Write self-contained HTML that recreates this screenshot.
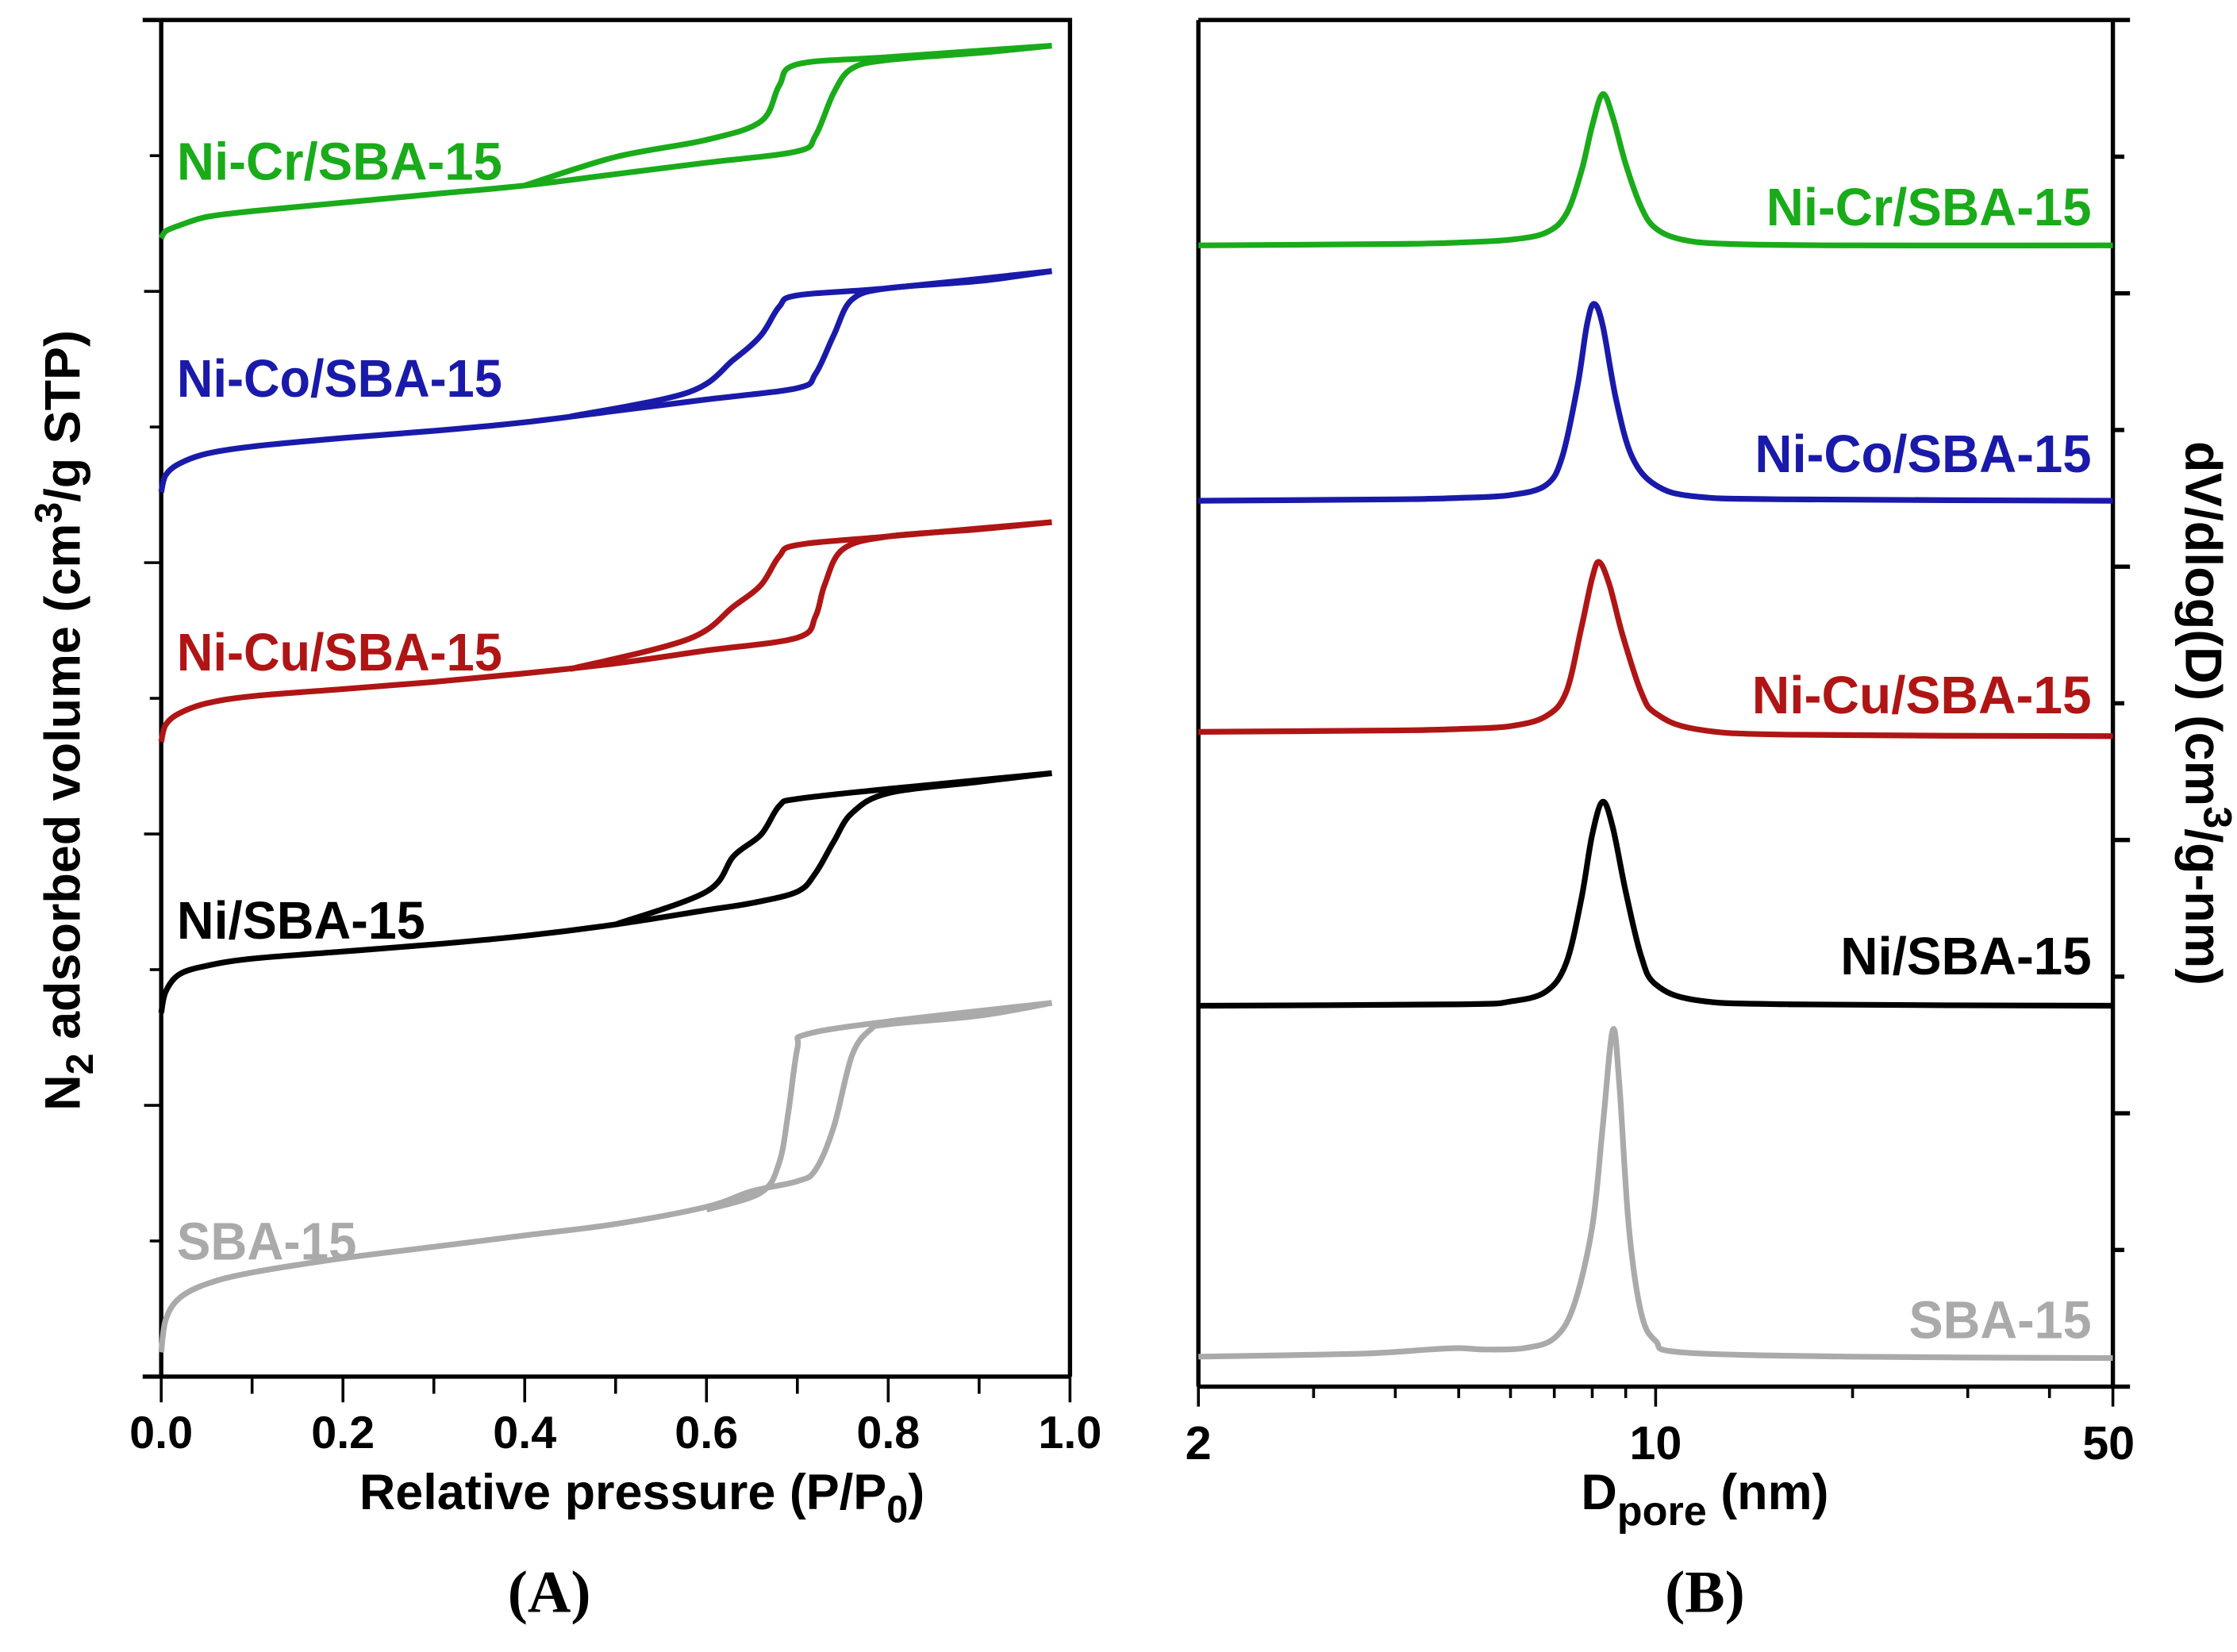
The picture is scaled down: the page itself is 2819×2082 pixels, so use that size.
<!DOCTYPE html>
<html><head><meta charset="utf-8"><style>
html,body{margin:0;padding:0;background:#fff}
svg{display:block}
text{font-family:"Liberation Sans",Arial,sans-serif;font-weight:bold}
</style></head><body>
<svg id="fig" width="2819" height="2082" viewBox="0 0 1568 1158" xmlns="http://www.w3.org/2000/svg">
<g id="pa"></g>
<g id="pb"></g>
</svg>
<script>
// ---------- Panel A data (relative pressure, adsorbed volume a.u.) ----------
const aXTicks=[0,0.2,0.4,0.6,0.8,1.0];
const aXTickLabels=["0.0","0.2","0.4","0.6","0.8","1.0"];
const aNames=["SBA-15","Ni/SBA-15","Ni-Cu/SBA-15","Ni-Co/SBA-15","Ni-Cr/SBA-15"];
const aColors=["#aaaaaa","#000000","#b01515","#1a1aaa","#1aab1a"];
const sbaAdsX=[0,0.005,0.02,0.05,0.1,0.2,0.3,0.4,0.5,0.6,0.65,0.7,0.72,0.74,0.76,0.78,0.8,0.9,0.98];
const sbaAdsY=[17,40,55,65,73,83,91,99,107,119,130,137,145,175,225,243,247,253,262];
const sbaDesX=[0.98,0.8,0.71,0.70,0.69,0.68,0.66,0.6];
const sbaDesY=[262,249,240,230,185,150,129,117];
const niAdsX=[0,0.005,0.02,0.05,0.1,0.2,0.3,0.4,0.5,0.6,0.65,0.7,0.72,0.74,0.76,0.8,0.9,0.98];
const niAdsY=[255,270,282,288,293,298,303,309,317,327,332,340,353,375,395,409,417,423];
const niDesX=[0.98,0.8,0.7,0.68,0.66,0.63,0.6,0.5];
const niDesY=[423,412,405,400,380,365,340,317];
const cuAdsX=[0,0.005,0.02,0.05,0.1,0.2,0.3,0.4,0.5,0.6,0.7,0.72,0.73,0.75,0.8,0.9,0.98];
const cuAdsY=[445,457,465,472,477,482,487,493,500,509,518,533,555,580,589,594,599];
const cuDesX=[0.98,0.8,0.7,0.68,0.66,0.63,0.58,0.45];
const cuDesY=[599,589,583,575,555,540,517,496];
const coAdsX=[0,0.005,0.02,0.05,0.1,0.2,0.3,0.4,0.5,0.6,0.7,0.72,0.74,0.76,0.8,0.9,0.98];
const coAdsY=[620,632,640,647,652,658,663,669,677,685,693,703,730,755,763,768,775];
const coDesX=[0.98,0.8,0.7,0.68,0.66,0.63,0.58,0.45];
const coDesY=[775,763,758,750,730,713,690,673];
const crAdsX=[0,0.005,0.02,0.05,0.1,0.2,0.3,0.4,0.5,0.6,0.7,0.72,0.74,0.76,0.8,0.9,0.98];
const crAdsY=[798,803,807,813,817,823,829,835,843,851,859,870,900,917,923,928,933];
const crDesX=[0.98,0.8,0.7,0.68,0.66,0.6,0.5,0.4];
const crDesY=[933,925,920,905,880,867,855,835];
const aLabelY=[95,320,508,700,852];

// ---------- Panel B data (pore diameter nm, dV/dlogD a.u.) ----------
const bXTickLabels=["2","10","50"];
const bXTicks=[2,10,50];
const bMinor=[3,4,5,6,7,8,9,20,30,40];
const sbaBD=[2,3.5,4.5,5,5.5,6.3,7,7.5,8.0,8.3,8.6,8.8,9.1,9.5,10,11,20,50];
const sbaBV=[21,23,26,27,26,27,34,57,112,182,250,212,112,52,32,24,21,20];
const niBD=[2,5,6,6.8,7.3,7.7,8.0,8.3,8.6,9.0,9.5,10,11.5,16,50];
const niBV=[267,268,270,277,297,342,387,410,392,347,302,282,271,268,267];
const cuBD=[2,4,5,6,6.8,7.3,7.7,8.0,8.2,8.5,8.9,9.5,10,11.5,16,50];
const cuBV=[459,460,461,463,470,487,532,567,578,562,527,487,472,461,457,456];
const coBD=[2,4,5,6,6.8,7.2,7.6,7.85,8.05,8.3,8.7,9.2,10,11.5,16,50];
const coBV=[621,622,623,625,632,652,702,744,759,744,692,652,632,624,622,621];
const crBD=[2,4,5,6,6.8,7.3,7.7,8.0,8.3,8.6,9.0,9.5,10,11,13,20,50];
const crBV=[800,801,802,804,809,822,852,884,906,890,857,827,812,804,801,800,800];
const bLabelY=[47,302,485,654,827];

const NS="http://www.w3.org/2000/svg";
function mk(parent,tag,attrs,txt){const e=document.createElementNS(NS,tag);for(const k in attrs)e.setAttribute(k,attrs[k]);if(txt!==undefined)e.textContent=txt;parent.appendChild(e);return e;}
function smooth(pts){let d="M"+pts[0][0].toFixed(2)+","+pts[0][1].toFixed(2);for(let i=0;i<pts.length-1;i++){const p0=pts[Math.max(0,i-1)],p1=pts[i],p2=pts[i+1],p3=pts[Math.min(pts.length-1,i+2)];const c1=[p1[0]+(p2[0]-p0[0])/6,p1[1]+(p2[1]-p0[1])/6],c2=[p2[0]-(p3[0]-p1[0])/6,p2[1]-(p3[1]-p1[1])/6];d+="C"+c1.map(v=>v.toFixed(2))+" "+c2.map(v=>v.toFixed(2))+" "+p2.map(v=>v.toFixed(2));}return d;}

// ---------- Panel A ----------
const pa=document.getElementById('pa');
const aL=113,aR=750,aT=14,aB=965;
const ax=v=>aL+(aR-aL)*v/1.0;
const ay=v=>aB-(aB-aT)*v/951;
const fr=mk(pa,'path',{d:`M100,${aT}H${aR}V${aB}M${aL},${aT}V${aB}M100,${aB}H${aR}`,stroke:'#000','stroke-width':3,fill:'none'});

for(let i=0;i<=10;i++){const x=ax(i/10);const t=mk(pa,'line',{x1:x,x2:x,y1:aB,y2:aB+(i%2?12:18),stroke:'#000','stroke-width':2});}
aXTicks.forEach((v,i)=>{const t=mk(pa,'text',{x:ax(v),y:1015,'font-size':32,'text-anchor':'middle'},aXTickLabels[i]);});
for(let k=1;k<10;k++){const y=aB-k*95.1;const t=mk(pa,'line',{x1:aL,x2:aL-(k%2?8:12),y1:y,y2:y,stroke:'#000','stroke-width':2});}
const aSeries=[[sbaAdsX,sbaAdsY,sbaDesX,sbaDesY],[niAdsX,niAdsY,niDesX,niDesY],[cuAdsX,cuAdsY,cuDesX,cuDesY],[coAdsX,coAdsY,coDesX,coDesY],[crAdsX,crAdsY,crDesX,crDesY]];
aSeries.forEach((s,i)=>{
 const p1=mk(pa,'path',{d:smooth(s[0].map((x,j)=>[ax(x),ay(s[1][j])])),stroke:aColors[i],'stroke-width':4,fill:'none','stroke-linejoin':'round'});
 
 const p2=mk(pa,'path',{d:smooth(s[2].map((x,j)=>[ax(x),ay(s[3][j])])),stroke:aColors[i],'stroke-width':4,fill:'none','stroke-linejoin':'round'});
 
 const t=mk(pa,'text',{x:124,y:ay(aLabelY[i])+13,'font-size':37,fill:aColors[i],textLength:228,lengthAdjust:'spacingAndGlyphs'},aNames[i]);
 if(i===0)t.setAttribute('textLength',126);
 if(i===1)t.setAttribute('textLength',174);
 
});
const xt=mk(pa,'text',{x:450,y:1058,'font-size':35,'text-anchor':'middle'});xt.innerHTML='Relative pressure (P/P<tspan font-size="27" dy="9">0</tspan><tspan dy="-9">)</tspan>';

const yt=mk(pa,'text',{transform:'translate(56,505) rotate(-90)','font-size':35,'text-anchor':'middle'});yt.innerHTML='N<tspan font-size="27" dy="9">2</tspan><tspan dy="-9"> adsorbed volume (cm</tspan><tspan font-size="27" dy="-13">3</tspan><tspan dy="13">/g STP)</tspan>';

const la=mk(pa,'text',{x:385,y:1130,'font-size':42,'text-anchor':'middle',style:'font-family:"Liberation Serif",serif;font-weight:bold'},'(A)');

// ---------- Panel B ----------
const pb=document.getElementById('pb');
const bL=840,bR=1481,bT=14,bB=972;
const bx=d=>bL+(bR-bL)*(Math.log10(d)-Math.log10(2))/(Math.log10(50)-Math.log10(2));
const by=v=>bB-(bB-bT)*v/958;
const fb=mk(pb,'path',{d:`M${bL},${bT}H${bR+12}M${bL},${bT}V${bB}M${bR},${bT}V${bB}M${bL},${bB}H${bR+12}`,stroke:'#000','stroke-width':3,fill:'none'});

bXTicks.forEach((v,i)=>{const t=mk(pb,'line',{x1:bx(v),x2:bx(v),y1:bB,y2:bB+14,stroke:'#000','stroke-width':2});
 const l=mk(pb,'text',{x:bx(v)+(i==2?-3:0),y:1023,'font-size':33,'text-anchor':'middle'},bXTickLabels[i]);});
bMinor.forEach(v=>{const t=mk(pb,'line',{x1:bx(v),x2:bx(v),y1:bB,y2:bB+8,stroke:'#000','stroke-width':2});});
for(let k=1;k<10;k++){const y=bB-k*95.8;const t=mk(pb,'line',{x1:bR,x2:bR+(k%2?8:12),y1:y,y2:y,stroke:'#000','stroke-width':3});}
const bSeries=[[sbaBD,sbaBV],[niBD,niBV],[cuBD,cuBV],[coBD,coBV],[crBD,crBV]];
const bLens=[128,176,238,236,228];
bSeries.forEach((s,i)=>{
 const p=mk(pb,'path',{d:smooth(s[0].map((d,j)=>[bx(d),by(s[1][j])])),stroke:aColors[i],'stroke-width':4,fill:'none','stroke-linejoin':'round'});
 
 const t=mk(pb,'text',{x:1466,y:by(bLabelY[i])+13,'font-size':37,fill:aColors[i],'text-anchor':'end',textLength:bLens[i],lengthAdjust:'spacingAndGlyphs'},aNames[i]);
 
});
const xtb=mk(pb,'text',{x:1195,y:1058,'font-size':35,'text-anchor':'middle'});xtb.innerHTML='D<tspan font-size="29" dy="11">pore</tspan><tspan dy="-11"> (nm)</tspan>';

const ytb=mk(pb,'text',{transform:'translate(1532,500) rotate(90)','font-size':36,'text-anchor':'middle'});ytb.innerHTML='dV/dlog(D) (cm<tspan font-size="28" dy="-13">3</tspan><tspan dy="13">/g-nm)</tspan>';

const lb=mk(pb,'text',{x:1195,y:1130,'font-size':42,'text-anchor':'middle',style:'font-family:"Liberation Serif",serif;font-weight:bold'},'(B)');
</script>
</body></html>
